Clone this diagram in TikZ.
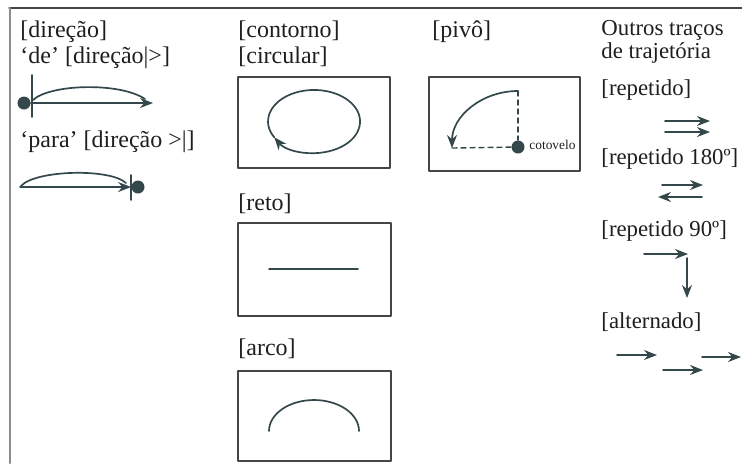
\documentclass[tikz,border=0pt]{standalone}
\usepackage{fontspec}
\setmainfont{Liberation Serif}
\usetikzlibrary{arrows.meta}
\definecolor{ink}{HTML}{1E1E1E}
\definecolor{trace}{HTML}{34484C}
\definecolor{frame}{HTML}{454545}

\begin{document}
\begin{tikzpicture}[x=0.5pt, y=-0.5pt, line cap=round, line join=round,
  lbl/.style={anchor=base west, inner sep=0pt, text=ink,
              font=\fontsize{12}{14}\selectfont},
  side/.style={lbl, font=\fontsize{11.4}{13}\selectfont},
  note/.style={lbl, font=\fontsize{6.7}{8}\selectfont},
  panel/.style={draw=frame, line width=0.8pt},
  tr/.style={trace, line width=0.85pt},
  ar/.style={tr, -{Stealth[length=6.5pt, width=5pt]}},
  guide/.style={trace, line width=0.7pt, dash pattern=on 2.5pt off 2pt},
  dot/.style={circle, fill=trace, inner sep=0pt, minimum size=6.5pt}]

\useasboundingbox (0,0) rectangle (742,463);
\draw[frame, line width=0.6pt] (9,8) -- (742,8);
\draw[black!45, line width=1.1pt] (10,8) -- (10,463);

\node[lbl] (dir) at (20,37) {[direção]};
\node[lbl] (dirde) at (20,63) {‘de’ [direção|>]};
\node[dot] (from) at (24,103) {};
\draw[tr] (32,75) -- (32,117);
\draw[ar] (from) -- (153,103);
\draw[tr] (33,100) .. controls (50,84) and (120,82) .. (145,99);

\node[lbl] (dirpara) at (20,147) {‘para’ [direção >|]};
\node[dot] (to) at (138,187) {};
\draw[tr] (131,175) -- (131,200);
\draw[ar] (20,187) -- (to);
\draw[tr] (21,186) .. controls (35,170) and (110,168) .. (126,183);

\node[lbl] (cont) at (238,37) {[contorno]};
\node[lbl] (circ) at (238,63) {[circular]};
\draw[panel] (238,77) rectangle (390,168);
\draw[ar] (274.2,137.2) arc[start angle=-210, end angle=150,
  x radius=46, y radius=31.5];

\node[lbl] (reto) at (238,210) {[reto]};
\draw[panel] (238,223) rectangle (391,316);
\draw[tr] (269,269) -- (358,269);

\node[lbl] (arco) at (238,355) {[arco]};
\draw[panel] (238,371) rectangle (391,461);
\draw[tr] (269,431) arc[start angle=180, end angle=360,
  x radius=45, y radius=31];

\node[lbl] (pivo) at (432,37) {[pivô]};
\draw[panel] (429,77) rectangle (580,171);
\node[dot] (elbow) at (518,147) {};
\coordinate (top) at (518,91);
\coordinate (end) at (452,148);
\draw[guide] (top) -- (elbow);
\draw[guide] (end) -- (elbow);
\draw[ar] (top) arc[start angle=-90, end angle=-180,
  x radius=66, y radius=57];
\node[note] (cotov) at (529,149) {cotovelo};

\node[side] (outros) at (601,35) {Outros traços};
\node[side] (traj) at (601,58) {de trajetória};
\node[side] (rep) at (601,95) {[repetido]};
\draw[ar] (665,121) -- (710,121);
\draw[ar] (665,132) -- (710,132);
\node[side] (rep180) at (601,164) {[repetido 180º]};
\draw[ar] (662,185) -- (703,185);
\draw[ar] (702,197) -- (658,197);
\node[side] (rep90) at (601,236) {[repetido 90º]};
\draw[ar] (644,254) -- (688,254);
\draw[ar] (687,258) -- (687,298);
\node[side] (alt) at (601,328) {[alternado]};
\draw[ar] (617,355) -- (657,355);
\draw[ar] (663,370) -- (703,370);
\draw[ar] (702,357) -- (741,357);

\end{tikzpicture}
\end{document}
